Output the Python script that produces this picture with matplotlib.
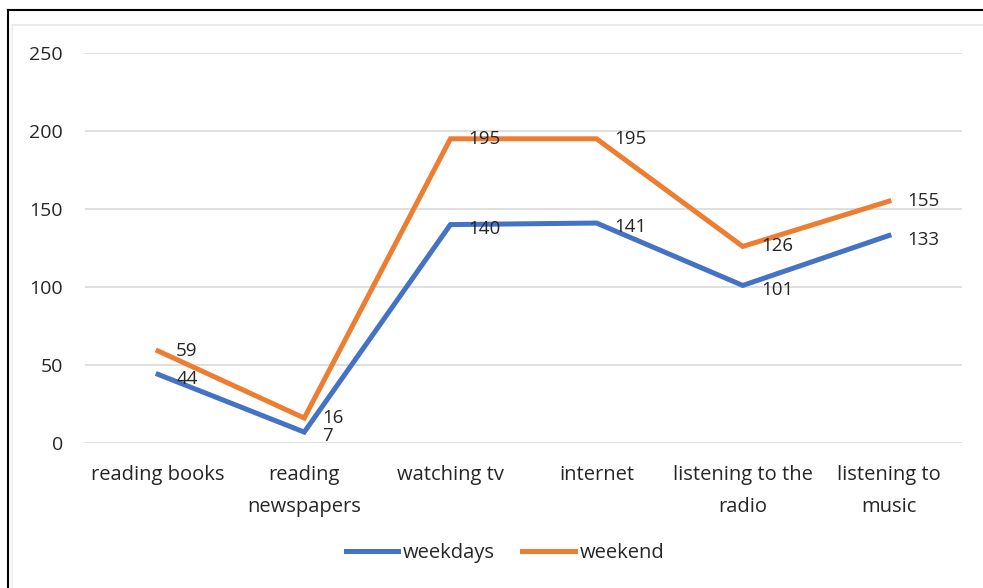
import matplotlib.pyplot as plt
from matplotlib.lines import Line2D

categories = ['reading books', 'reading\nnewspapers', 'watching tv', 'internet',
              'listening to the\nradio', 'listening to\nmusic']
weekdays = [44, 7, 140, 141, 101, 133]
weekend = [59, 16, 195, 195, 126, 155]
yticks = [0, 50, 100, 150, 200, 250]

blue = '#4472C4'
orange = '#ED7D31'
txt = '#262626'

plt.rcParams['font.family'] = ['Open Sans', 'DejaVu Sans']

W, H = 983, 588
fig = plt.figure(figsize=(W / 100, H / 100), dpi=100)
fig.patch.set_facecolor('white')

# outer frame (top and left) plus faint inner chart border
fig.add_artist(Line2D([8 / W, 1], [1 - 10 / H, 1 - 10 / H], color='black', lw=1.5))
fig.add_artist(Line2D([8 / W, 8 / W], [0, 1 - 10 / H], color='black', lw=1.5))
fig.add_artist(Line2D([12 / W, 1], [1 - 25 / H, 1 - 25 / H], color='#e6e6e6', lw=1.2))
fig.add_artist(Line2D([12 / W, 12 / W], [0, 1 - 25 / H], color='#eeeeee', lw=1.2))

# axes box: x 85..962, y 0 at 443, 250 at 53
ax = fig.add_axes([85 / W, 1 - 443 / H, (962 - 85) / W, (443 - 53) / H])
x = list(range(len(categories)))

ax.plot(x, weekdays, color=blue, lw=3.6, solid_joinstyle='miter', label='weekdays', zorder=3)
ax.plot(x, weekend, color=orange, lw=3.6, solid_joinstyle='miter', label='weekend', zorder=3)

for xi, v in zip(x, weekdays):
    ax.annotate(str(v), (xi, v), xytext=(13, -3), textcoords='offset points',
                ha='left', va='center', fontsize=13.5, color=txt, zorder=4)
for xi, v in zip(x, weekend):
    ax.annotate(str(v), (xi, v), xytext=(13, 0), textcoords='offset points',
                ha='left', va='center', fontsize=13.5, color=txt, zorder=4)

ax.set_xlim(-0.5, len(categories) - 0.5)
ax.set_ylim(0, 250)
ax.set_yticks(yticks)
ax.set_xticks(x)
ax.set_xticklabels(categories, fontsize=14.5, color=txt, linespacing=1.8)
ax.tick_params(axis='y', labelsize=14, labelcolor=txt, length=0, pad=16)
ax.tick_params(axis='x', length=0, pad=16)
ax.grid(axis='y', color='#d9d9d9', lw=1.2)
ax.set_axisbelow(True)
for s in ax.spines.values():
    s.set_visible(False)

fig.legend(loc='center', bbox_to_anchor=(505 / W, 1 - 553 / H), ncol=2, frameon=False,
           fontsize=14.5, handlelength=2.6, handletextpad=0.25, columnspacing=1.35,
           labelcolor=txt)

fig.savefig('out.png', dpi=100, facecolor='white')
